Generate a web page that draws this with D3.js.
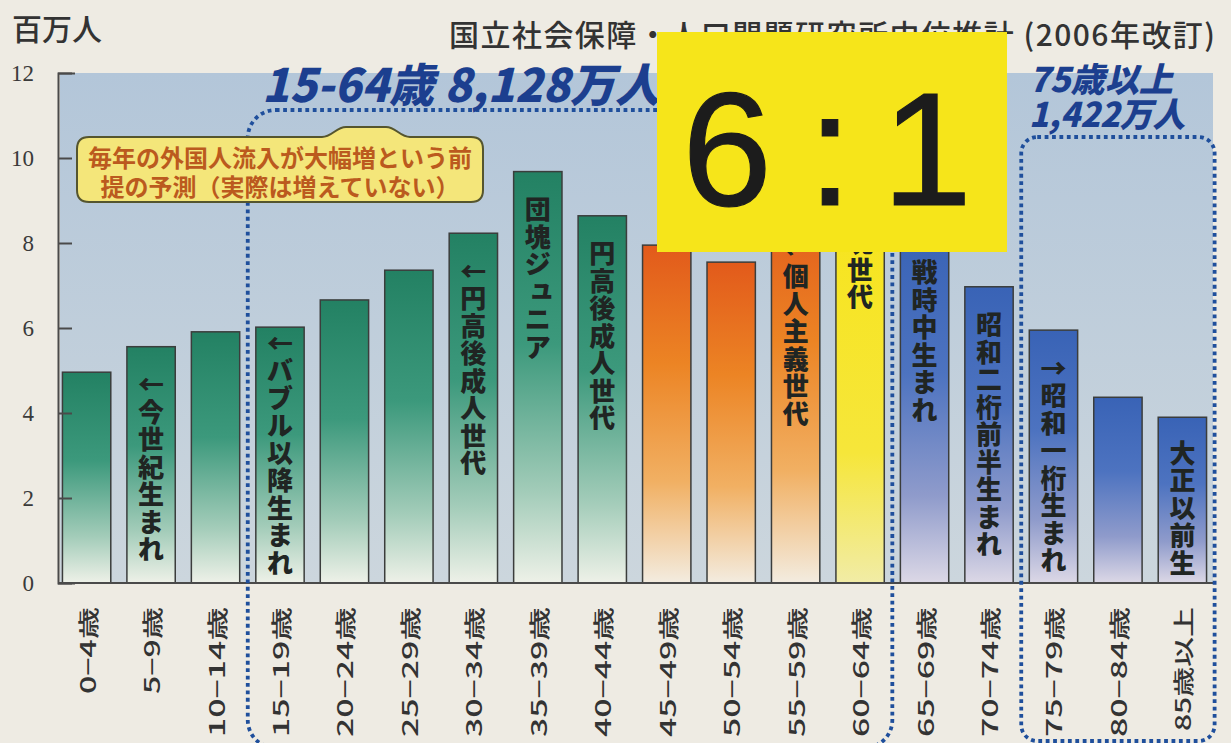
<!DOCTYPE html>
<html>
<head>
<meta charset="utf-8">
<script src="https://cdn.jsdelivr.net/npm/d3@7"></script>
<style>
  html, body { margin: 0; padding: 0; background: #eeebe3; }
  svg { display: block; }
</style>
</head>
<body>
<svg id="chart" width="1231" height="743"></svg>
<script>
// Population by five-year age group (millions)
const ageGroups = ["0−4歳", "5−9歳", "10−14歳", "15−19歳", "20−24歳", "25−29歳",
  "30−34歳", "35−39歳", "40−44歳", "45−49歳", "50−54歳", "55−59歳",
  "60−64歳", "65−69歳", "70−74歳", "75−79歳", "80−84歳", "85歳以上"];
const population = [4.96, 5.56, 5.91, 6.02, 6.66, 7.36, 8.23, 9.68, 8.64, 7.95, 7.55, 8.75,
  10.2, 8.2, 6.97, 5.95, 4.37, 3.9];
const generation = ["young", "young", "young", "young", "young", "young", "young", "young", "young",
  "middle", "middle", "middle", "dankai", "senior", "senior", "senior", "senior", "senior"];
const generationNotes = ["", "←今世紀生まれ", "", "←バブル以降生まれ", "", "", "←円高後成人世代",
  "団塊ジュニア", "円高後成人世代", "", "", "←個人主義世代", "←団塊世代", "戦時中生まれ",
  "昭和二桁前半生まれ", "→昭和一桁生まれ", "", "大正以前生"];
const yTicks = [0, 2, 4, 6, 8, 10, 12];

const unitLabel = "百万人";
const sourceNote = "国立社会保障・人口問題研究所中位推計 (2006年改訂)";
const workingAgeNote = "15-64歳 8,128万人";
const elderlyNote = ["75歳以上", "1,422万人"];
const ratioParts = ["6", ":", "1"];
const calloutLines = ["毎年の外国人流入が大幅増という前", "提の予測（実際は増えていない）"];

const svg = d3.select("#chart");
const jp = "'Noto Sans CJK JP', 'Noto Sans', sans-serif";

const plot = { left: 58, right: 1213, top: 73, bottom: 583 };

const x = d3.scaleBand()
  .domain(ageGroups)
  .range([56, 1213])
  .paddingInner(0.25)
  .paddingOuter(0.1);
const y = d3.scaleLinear().domain([0, 12]).range([plot.bottom, plot.top]);

// gradients
const defs = svg.append("defs");
const palettes = {
  young: [[0, "#238163"], [0.42, "#3c997c"], [0.78, "#a3ccb9"], [1, "#eef1e8"]],
  middle: [[0, "#e25a1b"], [0.35, "#ec8424"], [0.7, "#f1b063"], [1, "#f3ece0"]],
  dankai: [[0, "#f7e415"], [0.7, "#f6e63a"], [1, "#f1eca6"]],
  senior: [[0, "#3963b6"], [0.4, "#4d73c0"], [0.75, "#8f9bcb"], [1, "#dcd8e6"]]
};
Object.entries(palettes).forEach(([k, stops]) => {
  const g = defs.append("linearGradient").attr("id", "g-" + k)
    .attr("x1", 0).attr("y1", 0).attr("x2", 0).attr("y2", 1);
  stops.forEach(([o, c]) => g.append("stop").attr("offset", o).attr("stop-color", c));
});
const bg = defs.append("linearGradient").attr("id", "plot-bg")
  .attr("x1", 0).attr("y1", 0).attr("x2", 0).attr("y2", 1);
bg.append("stop").attr("offset", 0).attr("stop-color", "#b3c6d9");
bg.append("stop").attr("offset", 1).attr("stop-color", "#ccd6dd");

// plot background
svg.append("rect")
  .attr("x", plot.left + 2).attr("y", plot.top)
  .attr("width", plot.right - plot.left - 2).attr("height", plot.bottom - plot.top)
  .attr("fill", "url(#plot-bg)");

// bars
const data = ageGroups.map((a, i) => ({ age: a, value: population[i], gen: generation[i], note: generationNotes[i] }));
svg.append("g").selectAll("rect").data(data).join("rect")
  .attr("x", d => x(d.age))
  .attr("y", d => y(d.value))
  .attr("width", x.bandwidth())
  .attr("height", d => y(0) - y(d.value))
  .attr("fill", d => "url(#g-" + d.gen + ")")
  .attr("stroke", "#3b3d3c")
  .attr("stroke-width", 1.5);

// vertical notes inside the bars, one glyph per line
const noteSize = 26, pitch = 27.5;
const smallKana = "ュャョッァィゥェォ";
const notes = svg.append("g")
  .attr("font-family", jp).attr("font-weight", 900).attr("font-size", noteSize).attr("fill", "#202523");
data.filter(d => d.note).forEach(d => {
  const chars = Array.from(d.note);
  const cx = x(d.age) + x.bandwidth() / 2;
  const start = Math.min(y(d.value) + 36, y(0) - 22 - (chars.length - 1) * pitch);
  chars.forEach((c, i) => {
    const small = smallKana.includes(c);
    notes.append("text")
      .attr("x", cx + (small ? 4 : 0))
      .attr("y", start + i * pitch + (small ? -4 : 0))
      .attr("text-anchor", "middle")
      .attr("dominant-baseline", "central")
      .text(c);
  });
});

// y axis
const yAxis = d3.axisLeft(y).tickValues(yTicks).tickSizeInner(-14).tickSizeOuter(-17).tickPadding(24);
const gy = svg.append("g").attr("transform", `translate(${plot.left},0)`).call(yAxis);
gy.select(".domain").attr("stroke", "#4a4a4a").attr("stroke-width", 2);
gy.selectAll(".tick line").attr("stroke", "#4a4a4a").attr("stroke-width", 2);
gy.selectAll(".tick text")
  .attr("font-family", "'Liberation Serif', serif")
  .attr("font-size", 23).attr("fill", "#3a3a3a");

// baseline
svg.append("line")
  .attr("x1", plot.left).attr("x2", plot.right)
  .attr("y1", y(0)).attr("y2", y(0))
  .attr("stroke", "#4a4a4a").attr("stroke-width", 2);

// x labels (rotated, set wide)
const advance = c => /[0-9]/.test(c) ? 21.5 : (c === "−" ? 17 : 27);
const xAxis = d3.axisBottom(x).tickSize(0).tickPadding(0);
const gx = svg.append("g").attr("transform", `translate(0,${y(0)})`).call(xAxis);
gx.select(".domain").remove();
gx.selectAll(".tick text")
  .attr("font-family", jp).attr("font-size", 21).attr("font-weight", 500).attr("fill", "#333")
  .attr("text-anchor", "end")
  .attr("dominant-baseline", "central")
  .attr("dy", null)
  .attr("y", 0)
  .attr("textLength", d => d3.sum(Array.from(d), advance))
  .attr("lengthAdjust", "spacingAndGlyphs")
  .attr("transform", "translate(0,24) rotate(-90)");

// unit and source
svg.append("text").attr("x", 12).attr("y", 40)
  .attr("font-family", jp).attr("font-size", 30).attr("font-weight", 500).attr("fill", "#333")
  .text(unitLabel);
svg.append("text").attr("x", 449).attr("y", 46)
  .attr("font-family", jp).attr("font-size", 30).attr("font-weight", 500).attr("fill", "#333")
  .attr("textLength", 766).attr("lengthAdjust", "spacing")
  .text(sourceNote);

// dotted brackets around the age bands
const gap = x.step() * x.paddingInner() / 2;
function bracket(i0, i1, top, bottom, r) {
  const x0 = x(ageGroups[i0]) - gap;
  const x1 = x(ageGroups[i1]) + x.bandwidth() + gap;
  svg.append("rect")
    .attr("x", x0).attr("y", top).attr("width", x1 - x0).attr("height", bottom - top)
    .attr("rx", r).attr("ry", r)
    .attr("fill", "none").attr("stroke", "#1f4f9c")
    .attr("stroke-width", 3.8).attr("stroke-dasharray", "3.8 3.6");
}
bracket(3, 12, 110, 748, 28);
bracket(15, 17, 137, 741, 16);

// group totals
svg.append("text").attr("x", 262).attr("y", 102)
  .attr("font-family", jp).attr("font-size", 46).attr("font-weight", 900)
  .attr("font-style", "italic").attr("fill", "#1c3f8f")
  .attr("textLength", 398).attr("lengthAdjust", "spacingAndGlyphs")
  .text(workingAgeNote);
svg.append("g").attr("font-family", jp).attr("font-weight", 900).attr("font-style", "italic")
  .attr("font-size", 34).attr("fill", "#1c3f8f")
  .selectAll("text").data(elderlyNote).join("text")
  .attr("x", 1029).attr("y", (d, i) => 92 + i * 35)
  .attr("textLength", (d, i) => i === 0 ? 144 : 156)
  .attr("lengthAdjust", "spacingAndGlyphs")
  .text(d => d);

// callout
const co = { x0: 77, x1: 483, y0: 137, y1: 202, r: 12 };
const callout = d3.path();
callout.moveTo(co.x0 + co.r, co.y0);
callout.lineTo(322, co.y0);
callout.bezierCurveTo(332, co.y0, 336, 127, 346, 127);
callout.lineTo(386, 127);
callout.bezierCurveTo(396, 127, 400, co.y0, 410, co.y0);
callout.lineTo(co.x1 - co.r, co.y0);
callout.quadraticCurveTo(co.x1, co.y0, co.x1, co.y0 + co.r);
callout.lineTo(co.x1, co.y1 - co.r);
callout.quadraticCurveTo(co.x1, co.y1, co.x1 - co.r, co.y1);
callout.lineTo(co.x0 + co.r, co.y1);
callout.quadraticCurveTo(co.x0, co.y1, co.x0, co.y1 - co.r);
callout.lineTo(co.x0, co.y0 + co.r);
callout.quadraticCurveTo(co.x0, co.y0, co.x0 + co.r, co.y0);
callout.closePath();
svg.append("path").attr("d", callout.toString())
  .attr("fill", "#f4e67a").attr("stroke", "#55552e").attr("stroke-width", 2);
svg.append("g").attr("font-family", jp).attr("font-size", 24).attr("font-weight", 600)
  .attr("fill", "#bb5a1e").attr("text-anchor", "middle")
  .selectAll("text").data(calloutLines).join("text")
  .attr("x", 280).attr("y", (d, i) => 167 + i * 29)
  .text(d => d);

// ratio panel
svg.append("rect").attr("x", 657).attr("y", 32).attr("width", 350).attr("height", 220)
  .attr("fill", "#f6e51a");
svg.append("g").attr("font-family", "'Liberation Sans', Arial, sans-serif").attr("font-size", 162)
  .attr("fill", "#1c1c1c").attr("stroke", "#1c1c1c").attr("stroke-width", 1.2)
  .attr("text-anchor", "middle")
  .selectAll("text").data(ratioParts).join("text")
  .attr("x", (d, i) => [727, 830, 927][i]).attr("y", 205)
  .text(d => d);
</script>
</body>
</html>
